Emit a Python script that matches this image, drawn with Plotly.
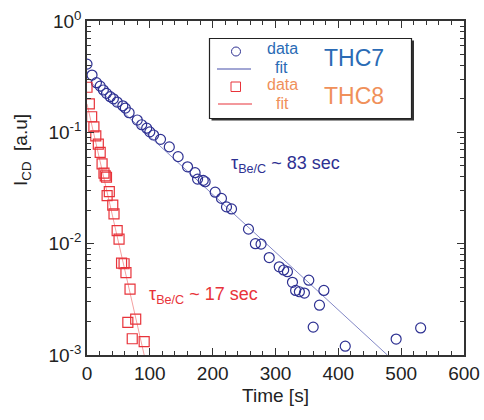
import plotly.graph_objects as go

# THC7 data (blue circles)
thc7_t = [0, 8, 15, 21, 26, 31, 37, 42, 48, 57, 61, 67, 80, 87, 95, 100, 106, 117, 131, 145,
          160, 172, 176, 185, 188, 204, 214, 222, 230, 257, 268, 277, 290, 306, 313, 319, 327,
          332, 338, 346, 353, 360, 370, 377, 411, 492, 531]
thc7_y = [0.41, 0.327, 0.279, 0.26, 0.24, 0.224, 0.209, 0.20, 0.187, 0.173, 0.165, 0.150, 0.129,
          0.117, 0.109, 0.101, 0.0946, 0.0865, 0.074, 0.0605, 0.049, 0.0434, 0.038, 0.037, 0.036,
          0.029, 0.0255, 0.0214, 0.0205, 0.0135, 0.0100, 0.0099, 0.0075, 0.0062, 0.0058, 0.0056,
          0.0045, 0.0038, 0.0037, 0.0036, 0.0047, 0.00178, 0.0028, 0.0038, 0.0012, 0.00139, 0.00175]

# THC8 data (red squares)
thc8_t = [0, 3.7, 7.4, 11, 14, 18, 21, 24, 27, 29, 31, 32, 35.5, 41, 43, 48, 51, 55, 59, 62,
          68.5, 65, 77.5, 72, 91]
thc8_y = [0.254, 0.18, 0.138, 0.112, 0.093, 0.0785, 0.066, 0.052, 0.043, 0.0407, 0.0395, 0.027,
          0.0293, 0.0222, 0.0185, 0.0131, 0.011, 0.0067, 0.0066, 0.0055, 0.0039, 0.00196, 0.0021,
          0.0014, 0.00132]

# Fit lines (endpoints; straight on log axis)
fit7_t = [5, 478]
fit7_y = [0.285, 0.001]
fit8_t = [0, 91]
fit8_y = [0.18, 0.001]

x_ticks = [0, 100, 200, 300, 400, 500, 600]
y_tickvals = [1, 0.1, 0.01, 0.001]
y_ticktext = ["10<sup>0</sup>", "10<sup>-1</sup>", "10<sup>-2</sup>", "10<sup>-3</sup>"]
y_minor = [m * d for d in (0.001, 0.01, 0.1) for m in range(2, 10)]

BLUE = "#2e3192"
RED = "#e8333a"
LBLUE = "#2a6bb5"
ORANGE = "#f0905a"
FONT = "Liberation Sans, Arial, sans-serif"

fig = go.Figure()
fig.add_trace(go.Scatter(x=fit7_t, y=fit7_y, mode="lines",
                         line=dict(color="#8388c6", width=1), showlegend=False))
fig.add_trace(go.Scatter(x=fit8_t, y=fit8_y, mode="lines",
                         line=dict(color="#f4a0a0", width=1), showlegend=False))
fig.add_trace(go.Scatter(x=thc7_t, y=thc7_y, mode="markers",
                         marker=dict(symbol="circle-open", size=10, color=BLUE, line=dict(width=1.2)),
                         showlegend=False))
fig.add_trace(go.Scatter(x=thc8_t, y=thc8_y, mode="markers",
                         marker=dict(symbol="square-open", size=10, color=RED, line=dict(width=1.2)),
                         showlegend=False))

FW, FH = 484, 420
L, R, T, B = 87, 464, 21, 355   # pixel coordinates of the plot area
W, H = R - L, B - T


def px(x):
    return (x - L) / W


def py(y):
    return (B - y) / H


shapes = []
shapes.append(dict(type="rect", xref="paper", yref="paper",
                   x0=px(211.5), x1=px(414), y0=py(120.5), y1=py(40.5),
                   fillcolor="#333333", line=dict(width=0), layer="above"))
shapes.append(dict(type="rect", xref="paper", yref="paper",
                   x0=px(209.5), x1=px(411.5), y0=py(118.5), y1=py(38.5),
                   fillcolor="white", line=dict(color="#222222", width=1.2), layer="above"))
shapes.append(dict(type="circle", xref="paper", yref="paper",
                   x0=px(231.5), x1=px(240.5), y0=py(56), y1=py(47),
                   line=dict(color=BLUE, width=1), layer="above"))
shapes.append(dict(type="line", xref="paper", yref="paper",
                   x0=px(217), x1=px(251), y0=py(69), y1=py(69),
                   line=dict(color="#8388c6", width=1.5), layer="above"))
shapes.append(dict(type="rect", xref="paper", yref="paper",
                   x0=px(231), x1=px(240.5), y0=py(91.5), y1=py(82),
                   line=dict(color=RED, width=1), layer="above"))
shapes.append(dict(type="line", xref="paper", yref="paper",
                   x0=px(218), x1=px(252), y0=py(104), y1=py(104),
                   line=dict(color=RED, width=1.2), layer="above"))

annotations = []


def ann(text, x, y, size, color, **kw):
    annotations.append(dict(text=text, x=px(x), y=py(y), xref="paper", yref="paper",
                            showarrow=False, font=dict(size=size, color=color, family=FONT),
                            xanchor="center", yanchor="middle", borderpad=0, **kw))


ann("data", 282, 48, 16, LBLUE)
ann("fit", 281, 67, 16, LBLUE)
ann("data", 282, 85, 16, ORANGE)
ann("fit", 282, 103, 16, ORANGE)
ann("THC7", 354, 58, 23, LBLUE)
ann("THC8", 354, 96, 23, ORANGE)
ann("τ<sub>Be/C</sub> ~ 83 sec", 285, 165, 18, BLUE)
ann("τ<sub>Be/C</sub> ~ 17 sec", 203, 295, 18, RED)
ann("I<sub>CD</sub>  [a.u]", 22, 150, 19, "#222222", textangle=-90)

fig.update_layout(
    width=FW, height=FH,
    margin=dict(l=L, r=FW - R, t=T, b=FH - B),
    paper_bgcolor="white", plot_bgcolor="white",
    font=dict(family=FONT, size=18, color="#222222"),
    shapes=shapes, annotations=annotations,
    xaxis=dict(range=[0, 600], tickmode="array", tickvals=x_ticks, ticks="inside", ticklen=7,
               tickwidth=1, tickcolor="#333333", showline=True, linecolor="#333333", linewidth=1.5,
               mirror="allticks", showgrid=False, zeroline=False, automargin=False,
               ticklabeloverflow="allow",
               minor=dict(tickmode="linear", tick0=0, dtick=20, ticks="inside", ticklen=4,
                          tickcolor="#333333", showgrid=False),
               title=dict(text="Time [s]", font=dict(size=19), standoff=6),
               tickfont=dict(size=19)),
    yaxis=dict(type="log", range=[-3, 0], tickmode="array", tickvals=y_tickvals, ticktext=y_ticktext,
               ticks="inside", ticklen=7, tickwidth=1, tickcolor="#333333",
               showline=True, linecolor="#333333", linewidth=1.5, mirror="allticks",
               showgrid=False, zeroline=False, automargin=False, ticklabeloverflow="allow",
               minor=dict(tickmode="array", tickvals=y_minor, ticks="inside", ticklen=4,
                          tickcolor="#333333", showgrid=False),
               tickfont=dict(size=19)),
)

fig.write_html("out.html", config={"displayModeBar": False},
               post_script="document.documentElement.style.overflow='hidden';"
                           "document.body.style.margin='0';")
